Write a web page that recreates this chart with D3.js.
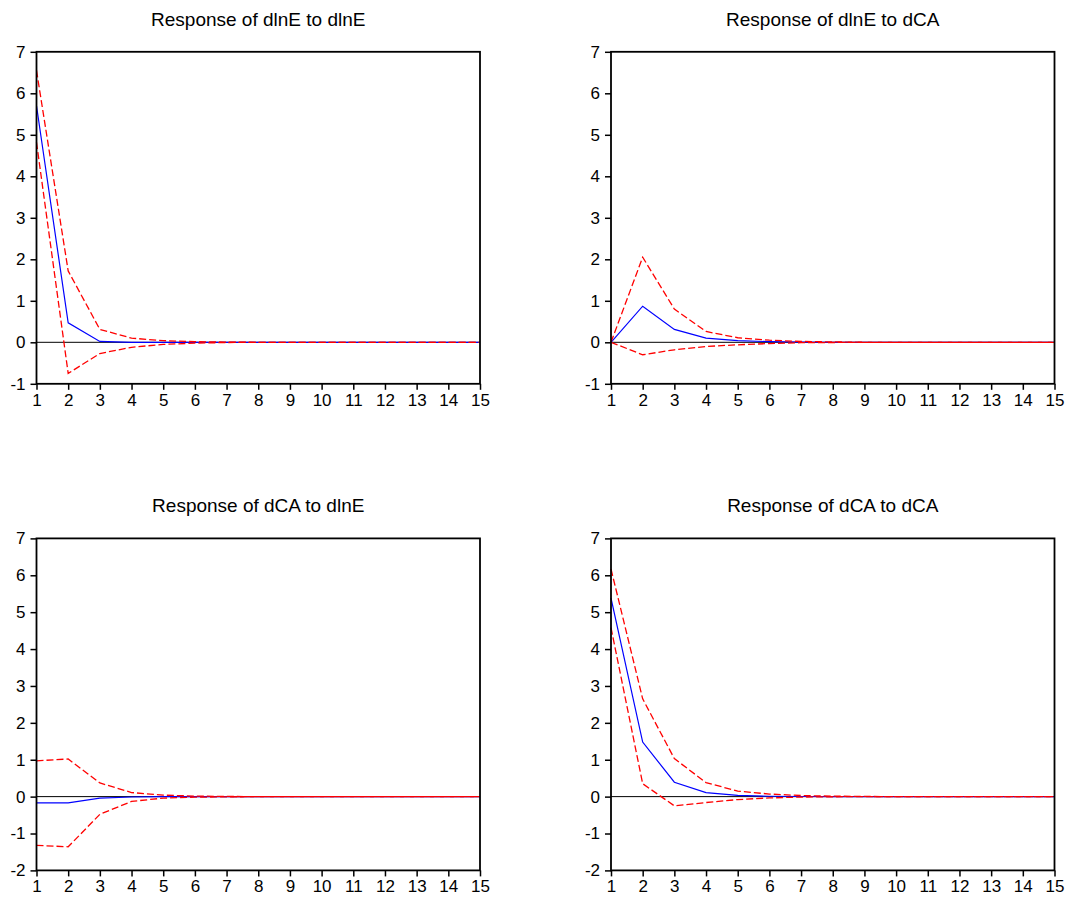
<!DOCTYPE html>
<html lang="en">
<head>
<meta charset="UTF-8"/>
<title>Impulse responses</title>
<script src="https://d3js.org/d3.v7.min.js"></script>
<style>
  body { margin: 0; background: #fff; }
  text { font-family: "Liberation Sans", Arial, sans-serif; fill: #000; }
</style>
</head>
<body>
<script>
    var w = 1070;
    var h = 903;

    // periods on the x axis
    var periods = [1,2,3,4,5,6,7,8,9,10,11,12,13,14,15];

    // panel titles
    var titles = ["Response of dlnE to dlnE", "Response of dlnE to dCA",
                  "Response of dCA to dlnE", "Response of dCA to dCA"];

    // dlnE to dlnE
    var resp11  = [5.70, 0.47, 0.02, 0.00, 0, 0, 0, 0, 0, 0, 0, 0, 0, 0, 0];
    var upper11 = [6.55, 1.72, 0.31, 0.10, 0.04, 0.015, 0.005, 0, 0, 0, 0, 0, 0, 0, 0];
    var lower11 = [4.82, -0.75, -0.27, -0.12, -0.05, -0.02, -0.005, 0, 0, 0, 0, 0, 0, 0, 0];

    // dlnE to dCA
    var resp12  = [0, 0.87, 0.31, 0.10, 0.04, 0.015, 0.005, 0, 0, 0, 0, 0, 0, 0, 0];
    var upper12 = [0, 2.05, 0.80, 0.26, 0.11, 0.05, 0.02, 0.01, 0, 0, 0, 0, 0, 0, 0];
    var lower12 = [0, -0.30, -0.18, -0.10, -0.06, -0.03, -0.01, -0.005, 0, 0, 0, 0, 0, 0, 0];

    // dCA to dlnE
    var resp21  = [-0.17, -0.17, -0.04, -0.01, 0, 0, 0, 0, 0, 0, 0, 0, 0, 0, 0];
    var upper21 = [0.97, 1.02, 0.37, 0.11, 0.04, 0.015, 0.005, 0, 0, 0, 0, 0, 0, 0, 0];
    var lower21 = [-1.32, -1.36, -0.48, -0.13, -0.04, -0.015, -0.005, 0, 0, 0, 0, 0, 0, 0, 0];

    // dCA to dCA
    var resp22  = [5.38, 1.48, 0.39, 0.11, 0.035, 0.01, 0.003, 0, 0, 0, 0, 0, 0, 0, 0];
    var upper22 = [6.17, 2.65, 1.03, 0.38, 0.15, 0.07, 0.03, 0.012, 0.005, 0, 0, 0, 0, 0, 0];
    var lower22 = [4.58, 0.35, -0.25, -0.16, -0.08, -0.035, -0.012, -0.004, 0, 0, 0, 0, 0, 0, 0];

    var yDomains = [[-1, 7], [-1, 7], [-2, 7], [-2, 7]];

    var panels = [
        { title: titles[0], resp: resp11, upper: upper11, lower: lower11, dom: yDomains[0], x0: 36.5, y0: 51.8 },
        { title: titles[1], resp: resp12, upper: upper12, lower: lower12, dom: yDomains[1], x0: 611,  y0: 51.8 },
        { title: titles[2], resp: resp21, upper: upper21, lower: lower21, dom: yDomains[2], x0: 36.5, y0: 538.4 },
        { title: titles[3], resp: resp22, upper: upper22, lower: lower22, dom: yDomains[3], x0: 611,  y0: 538.4 }
    ];

    var pw = 443.5;   // plot width
    var ph = 332;     // plot height

    var svg = d3.select("body")
                .append("svg")
                .attr("width", w)
                .attr("height", h);

    // plain hyphen for negatives, like the original
    var fmt = function(d) { return String(d); };

    panels.forEach(function(p) {
        var g = svg.append("g").attr("transform", "translate(" + p.x0 + "," + p.y0 + ")");

        var xScale = d3.scaleLinear().domain([1, 15]).range([0, pw]);
        var yScale = d3.scaleLinear().domain(p.dom).range([ph, 0]);

        // title
        g.append("text")
            .attr("x", pw / 2)
            .attr("y", -26)
            .attr("text-anchor", "middle")
            .attr("font-size", "19px")
            .text(p.title);

        // zero line
        g.append("line")
            .attr("x1", 0).attr("x2", pw)
            .attr("y1", yScale(0)).attr("y2", yScale(0))
            .attr("stroke", "#000")
            .attr("stroke-width", 1);

        var line = d3.line()
            .x(function(d, i) { return xScale(periods[i]); })
            .y(function(d) { return yScale(d); });

        g.append("path").datum(p.resp)
            .attr("d", line).attr("fill", "none")
            .attr("stroke", "#0000ff").attr("stroke-width", 1.2);
        g.append("path").datum(p.upper)
            .attr("d", line).attr("fill", "none")
            .attr("stroke", "#ff0000").attr("stroke-width", 1.3)
            .attr("stroke-dasharray", "7,3");
        g.append("path").datum(p.lower)
            .attr("d", line).attr("fill", "none")
            .attr("stroke", "#ff0000").attr("stroke-width", 1.3)
            .attr("stroke-dasharray", "7,3");

        // frame
        g.append("rect")
            .attr("x", 0).attr("y", 0)
            .attr("width", pw).attr("height", ph)
            .attr("fill", "none")
            .attr("stroke", "#000")
            .attr("stroke-width", 1.8);

        // axes
        var yAxis = d3.axisLeft(yScale)
            .tickValues(d3.range(p.dom[0], p.dom[1] + 1))
            .tickFormat(fmt)
            .tickSize(6).tickSizeOuter(0).tickPadding(5);
        var gy = g.append("g").call(yAxis);

        var xAxis = d3.axisBottom(xScale)
            .tickValues(periods)
            .tickFormat(fmt)
            .tickSize(6).tickSizeOuter(0).tickPadding(4);
        var gx = g.append("g").attr("transform", "translate(0," + ph + ")").call(xAxis);

        [gx, gy].forEach(function(a) {
            a.select(".domain").remove();
            a.selectAll(".tick line").attr("stroke", "#000").attr("stroke-width", 1.5);
            a.selectAll(".tick text")
                .attr("font-family", "'Liberation Sans', Arial, sans-serif")
                .attr("font-size", "17px")
                .attr("fill", "#000");
        });
    });
</script>
</body>
</html>
